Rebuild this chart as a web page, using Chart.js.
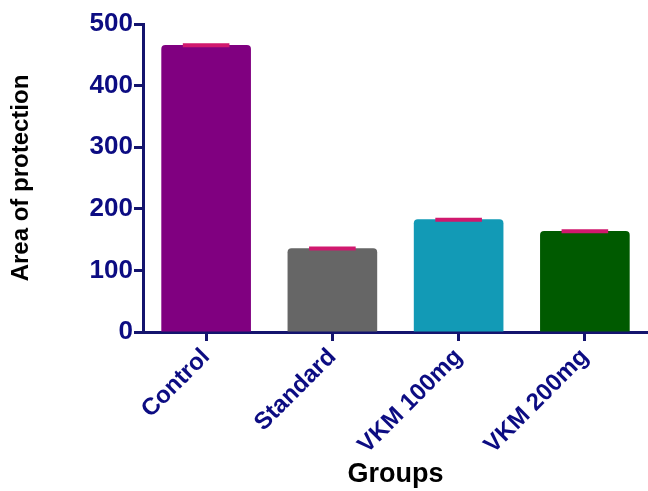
<!DOCTYPE html>
<html>
<head>
<meta charset="utf-8">
<script src="https://cdn.jsdelivr.net/npm/chart.js@4.4.1/dist/chart.umd.min.js"></script>
<style>
  html, body { margin: 0; padding: 0; background: #fff; }
  #wrap { width: 648px; height: 491px; }
</style>
</head>
<body>
<div id="wrap"><canvas id="groupChart"></canvas></div>
<script>
const groups = ['Control', 'Standard', 'VKM 100mg', 'VKM 200mg'];
const areaMeans = [466, 136, 183, 164];
const areaErrors = [1, 1, 1, 1];
const yTicks = [0, 100, 200, 300, 400, 500];

const barColors = ['#800080', '#666666', '#129ab6', '#005a00'];
const navy = '#14146e';
const fontFamily = '"Liberation Sans", Arial, sans-serif';

// small pink caps on top of each bar (error bars)
const errorBars = {
  id: 'errorBars',
  afterDatasetsDraw(chart) {
    const ctx = chart.ctx;
    const yScale = chart.scales.y;
    const meta = chart.getDatasetMeta(0);
    ctx.save();
    ctx.strokeStyle = '#d0186e';
    ctx.lineWidth = 4;
    meta.data.forEach((bar, i) => {
      const top = yScale.getPixelForValue(areaMeans[i] + areaErrors[i]);
      const mid = yScale.getPixelForValue(areaMeans[i]);
      const half = bar.width * 0.26;
      ctx.beginPath();
      ctx.moveTo(bar.x, mid);
      ctx.lineTo(bar.x, top);
      ctx.moveTo(bar.x - half, top + 1);
      ctx.lineTo(bar.x + half, top + 1);
      ctx.stroke();
    });
    ctx.restore();
  }
};

new Chart(document.getElementById('groupChart').getContext('2d'), {
  type: 'bar',
  data: {
    labels: groups,
    datasets: [{
      data: areaMeans,
      backgroundColor: barColors,
      borderRadius: { topLeft: 4, topRight: 4 },
      borderSkipped: 'bottom',
      barPercentage: 0.71,
      categoryPercentage: 1.0
    }]
  },
  options: {
    responsive: true,
    maintainAspectRatio: false,
    animation: false,
    layout: { padding: { top: 24, right: 0, left: 0, bottom: 0 } },
    plugins: {
      legend: { display: false },
      tooltip: { enabled: false }
    },
    scales: {
      x: {
        grid: {
          drawOnChartArea: false,
          drawTicks: true,
          tickLength: 9,
          tickColor: navy,
          tickWidth: 3,
          offset: false
        },
        border: { color: navy, width: 3 },
        ticks: {
          color: '#0c0c82',
          font: { family: fontFamily, size: 24, weight: 'bold' },
          minRotation: 45,
          maxRotation: 45,
          padding: 2
        },
        title: {
          display: true,
          text: 'Groups',
          color: '#000',
          font: { family: fontFamily, size: 27, weight: 'bold' },
          padding: { top: 0, bottom: 0 }
        },
        afterFit(scale) { scale.height = 159; }
      },
      y: {
        min: 0,
        max: 500,
        afterBuildTicks(scale) {
          scale.ticks = yTicks.map(v => ({ value: v }));
        },
        grid: {
          drawOnChartArea: false,
          tickLength: 9,
          tickColor: navy,
          tickWidth: 3
        },
        border: { color: navy, width: 3 },
        ticks: {
          color: '#0c0c82',
          font: { family: fontFamily, size: 26, weight: 'bold' },
          padding: 1
        },
        title: {
          display: true,
          text: 'Area of protection',
          color: '#000',
          font: { family: fontFamily, size: 24, weight: 'bold' },
          padding: { top: 7, bottom: 0 }
        },
        afterFit(scale) { scale.width = 143; }
      }
    }
  },
  plugins: [errorBars]
});
</script>
</body>
</html>
